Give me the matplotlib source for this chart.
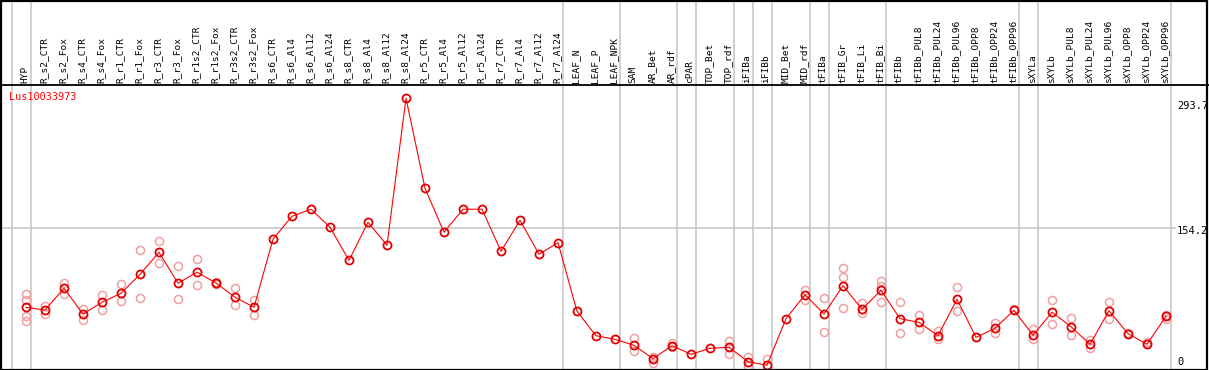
import matplotlib
matplotlib.use("Agg")
import matplotlib.pyplot as plt
from matplotlib.patches import Rectangle
from matplotlib.lines import Line2D
from matplotlib import transforms

# ── Data ──────────────────────────────────────────────────────────────────────
GENE = "Lus10033973"

samples = [
    "HYP", "R_s2_CTR", "R_s2_Fox", "R_s4_CTR", "R_s4_Fox", "R_r1_CTR", "R_r1_Fox",
    "R_r3_CTR", "R_r3_Fox", "R_r1s2_CTR", "R_r1s2_Fox", "R_r3s2_CTR", "R_r3s2_Fox",
    "R_s6_CTR", "R_s6_Al4", "R_s6_Al12", "R_s6_Al24", "R_s8_CTR", "R_s8_Al4",
    "R_s8_Al12", "R_s8_Al24", "R_r5_CTR", "R_r5_Al4", "R_r5_Al12", "R_r5_Al24",
    "R_r7_CTR", "R_r7_Al4", "R_r7_Al12", "R_r7_Al24", "LEAF_N", "LEAF_P", "LEAF_NPK",
    "SAM", "AR_Bet", "AR_rdf", "cPAR", "TOP_Bet", "TOP_rdf", "iFIBa", "iFIBb",
    "MID_Bet", "MID_rdf", "tFIBa", "tFIB_Gr", "tFIB_Li", "tFIB_Bi", "tFIBb",
    "tFIBb_PUL8", "tFIBb_PUL24", "tFIBb_PUL96", "tFIBb_OPP8", "tFIBb_OPP24",
    "tFIBb_OPP96", "sXYLa", "sXYLb", "sXYLb_PUL8", "sXYLb_PUL24", "sXYLb_PUL96",
    "sXYLb_OPP8", "sXYLb_OPP24", "sXYLb_OPP96",
]

mean_expr = [
    69.4, 66.5, 89.8, 62.2, 74.8, 84.4, 104.8, 128.4, 95.2, 107.0, 95.5, 80.2, 69.4,
    142.4, 167.1, 174.6, 155.3, 119.8, 160.6, 135.9, 293.7, 197.1, 149.9, 174.6, 174.6,
    129.5, 162.8, 126.3, 138.7, 65.1, 38.9, 35.1, 28.6, 14.3, 28.2, 19.0, 25.4, 26.5,
    11.1, 7.2, 57.2, 82.9, 62.2, 92.6, 67.3, 87.7, 57.2, 53.3, 38.9, 78.0, 37.2, 46.9,
    66.2, 39.4, 64.1, 48.6, 29.7, 65.8, 41.1, 29.7, 59.8,
]

replicates = [
    [83.4, 76.9, 60.1, 55.0], [71.1, 61.9], [95.8, 83.4], [67.6, 56.1], [82.6, 66.2],
    [94.4, 75.9], [130.6, 79.1], [140.2, 116.6], [113.4, 78.0], [120.9, 93.0],
    [96.2, 94.4], [90.1, 71.8], [76.9, 61.5],
    [], [], [], [], [], [], [], [], [], [], [], [], [], [], [], [],
    [], [], [],
    [36.2, 22.5], [16.4, 10.0], [31.4, 26.5], [], [], [33.3, 19.6],
    [16.4, 6.4], [13.6], [], [88.0, 77.6], [79.1, 42.6], [111.3, 101.6, 68.3],
    [74.0, 63.6], [97.3, 92.3, 74.8], [74.8, 41.5], [60.8, 46.5], [44.0, 35.7],
    [90.9, 65.1], [37.2], [52.6, 42.2], [67.6], [46.1, 35.7], [76.9, 51.2],
    [57.6, 39.4], [34.3, 26.1], [74.8, 57.2], [42.2], [31.9], [60.8, 57.2],
]

# group boundaries: a divider sits just left of these sample indices
group_starts = [0, 1, 29, 32, 35, 36, 38, 39, 40, 42, 43, 46, 53, 54, 61]

y_labels = ["293.7", "154.2", "0"]

# ── Layout ────────────────────────────────────────────────────────────────────
W, H = 1209, 370
fig = plt.figure(figsize=(W / 100, H / 100), dpi=100)
fig.patch.set_facecolor("white")

RED = "#ff0000"
PINK = "#f0a0a0"
GRID = "#c4c4c4"
MONO = "DejaVu Sans Mono"

x_lo = -26 / 19
x_hi = (1176 - 26) / 19

ax = fig.add_axes([0, 1 / H, 1176 / W, 284 / H])
ax_lab = fig.add_axes([0, 285 / H, 1176 / W, 85 / H], sharex=ax)

for a in (ax, ax_lab):
    a.set_facecolor("white")
    a.axis("off")

ax.set_xlim(x_lo, x_hi)
ax.set_ylim(3.2, 307.9)
ax_lab.set_ylim(85, 0)

# ── Grid ──────────────────────────────────────────────────────────────────────
for g in group_starts:
    for a in (ax, ax_lab):
        a.axvline(g - 0.75, color=GRID, lw=1.1, zorder=1)
ax.axhline(154.2, color=GRID, lw=1.1, zorder=1)

# ── Series ────────────────────────────────────────────────────────────────────
rx, ry = [], []
for i, reps in enumerate(replicates):
    for v in reps:
        rx.append(i)
        ry.append(v)
ax.plot(rx, ry, ls="none", marker="o", ms=5.8, mfc="none", mec=PINK, mew=1.1, zorder=2)

xs = list(range(len(samples)))
ax.plot(xs, mean_expr, color=RED, lw=0.8, zorder=3)
ax.plot(xs, mean_expr, ls="none", marker="o", ms=5.8, mfc="none", mec="#e00000", mew=1.3, zorder=4)

# ── Labels ────────────────────────────────────────────────────────────────────
for i, name in enumerate(samples):
    ax_lab.text(i - 0.05, 83, name, rotation=90, ha="center", va="bottom",
                fontsize=6.8, family=MONO, color="black")

fig.text(9 / W, 1 - 96.7 / H, GENE, ha="left", va="center",
         fontsize=7.3, family=MONO, color=RED)

lab_vals = [293.7, 154.2, 0.0]
lab_offs = [-7.4, -2.7, 10.0]   # pixel nudges of the original viewer
for txt, v, off in zip(y_labels, lab_vals, lab_offs):
    tr = transforms.offset_copy(ax.transData, fig=fig, x=0, y=off, units="dots")
    blend = transforms.blended_transform_factory(fig.transFigure, tr)
    ax.text(1177 / W, v, txt, transform=blend, ha="left", va="center",
            fontsize=7.5, family=MONO, color="black", clip_on=False)

# ── Frame ─────────────────────────────────────────────────────────────────────
fig.add_artist(Rectangle((0.5 / W, 0.5 / H), (W - 2.5) / W, (H - 1.5) / H,
                         transform=fig.transFigure, fill=False, ec="black", lw=1.6))
fig.add_artist(Line2D([0, 1], [1 - 85 / H] * 2, transform=fig.transFigure,
                      color="black", lw=1.3))

fig.savefig("out.png", dpi=100, facecolor="white")
